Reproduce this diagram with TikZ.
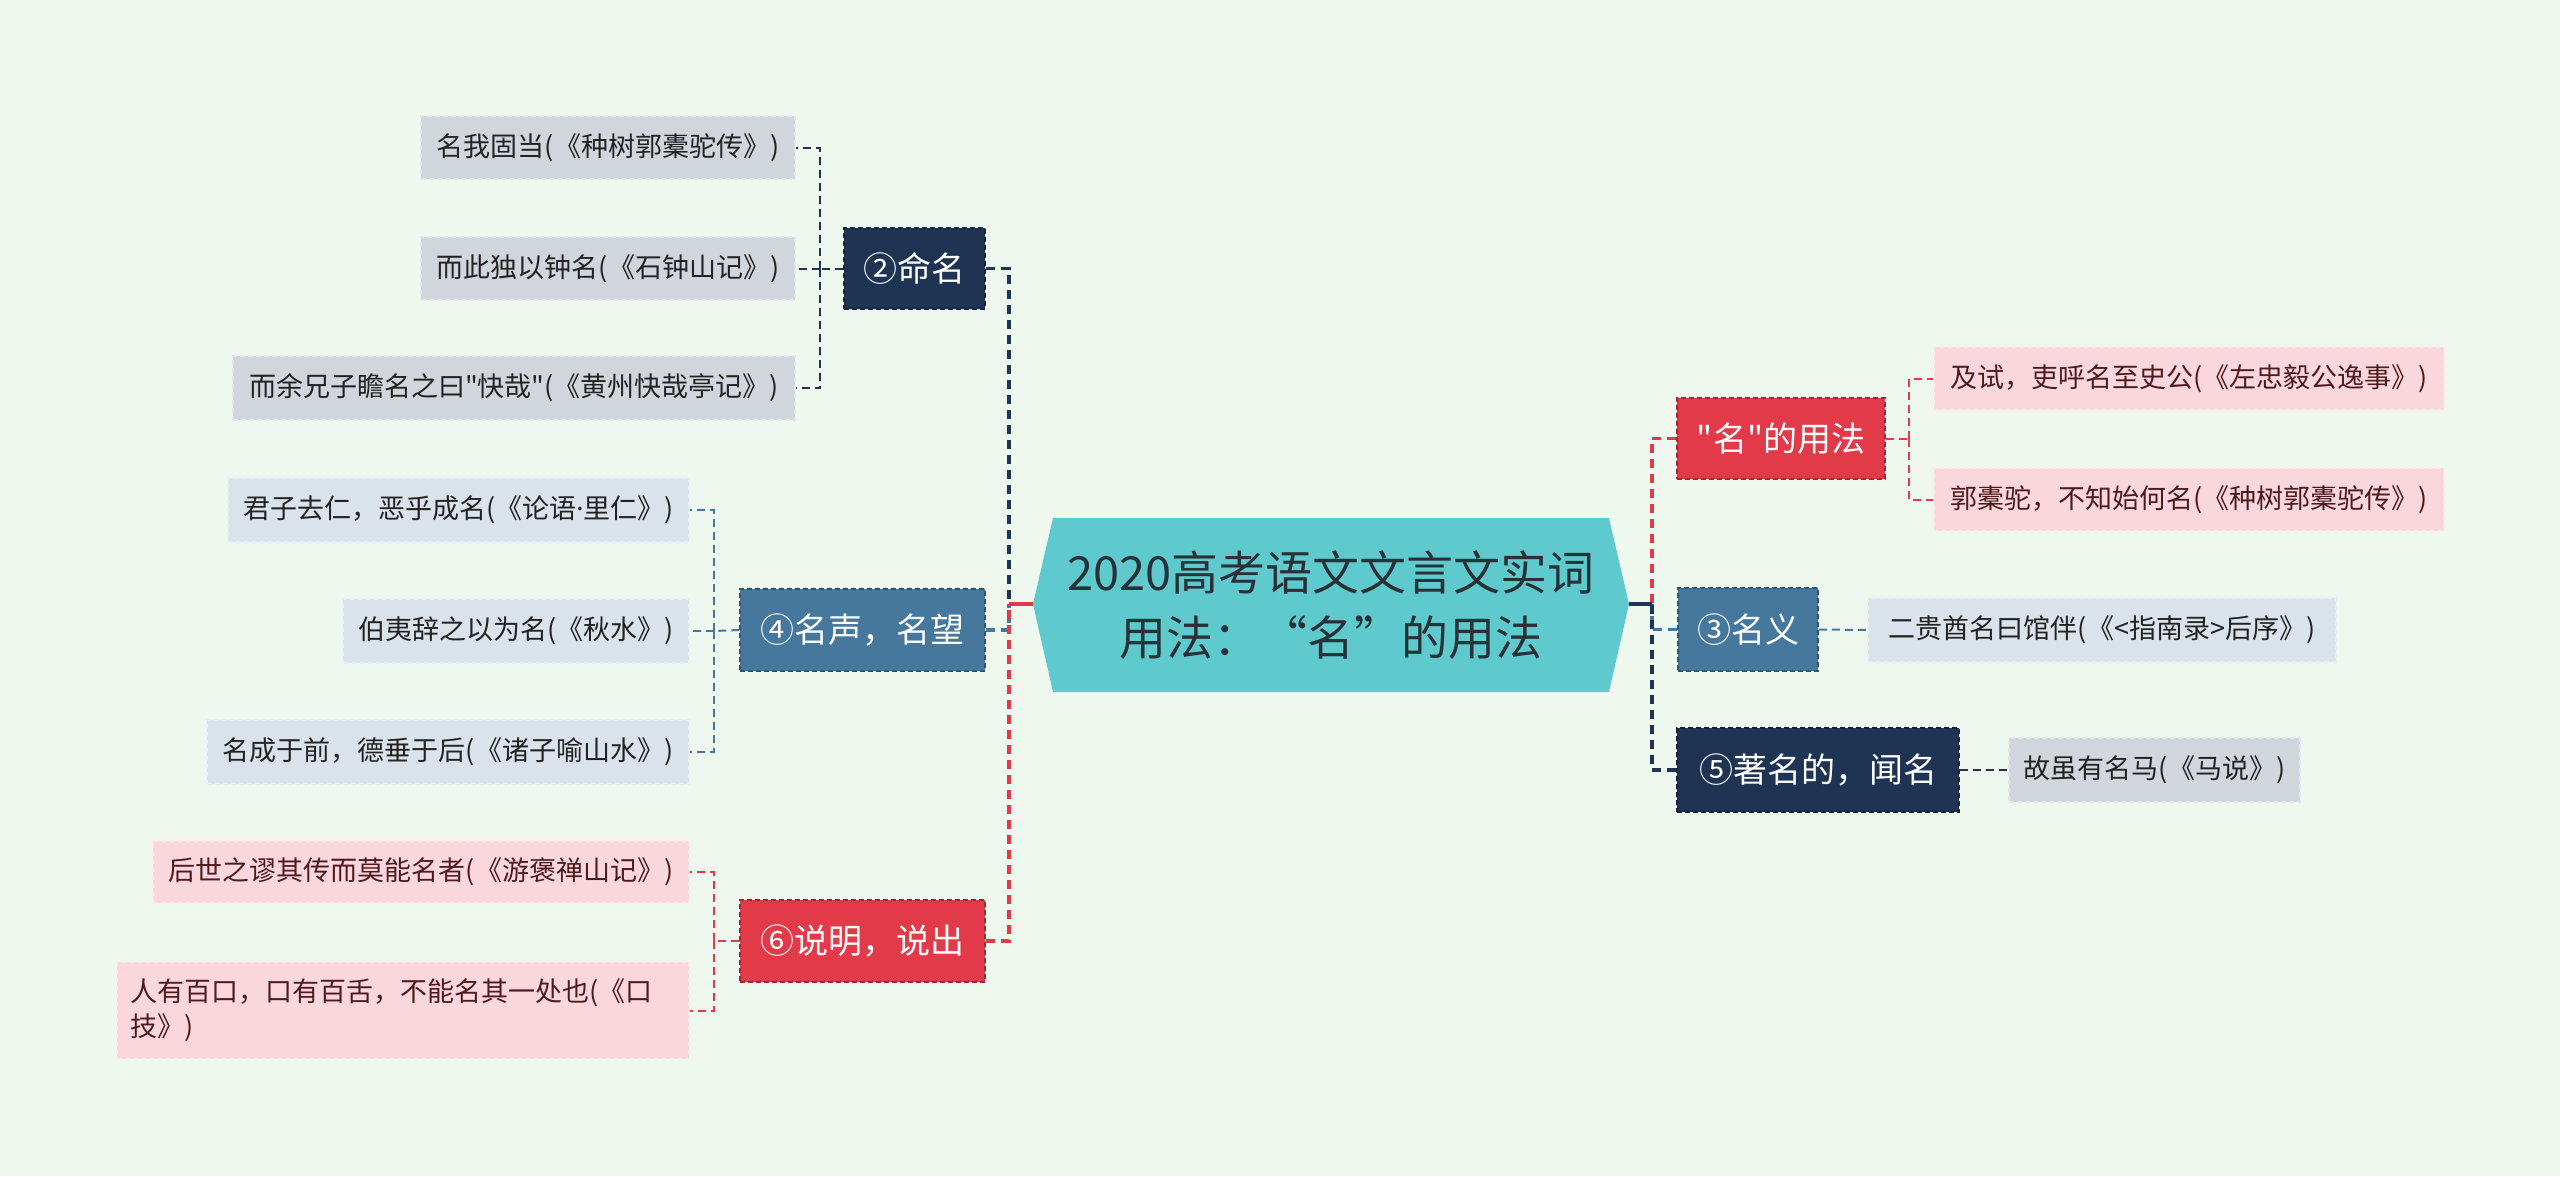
\documentclass[tikz,border=0pt]{standalone}
\usepackage{fontspec}
\setmainfont{Noto Sans CJK SC}[Ligatures=TeXOff]
\newfontfamily\latinfont{Noto Sans}
\definecolor{bg}{HTML}{EFF8EE}
\definecolor{cteal}{HTML}{5FCACD}
\definecolor{cnavy}{HTML}{1E3452}
\definecolor{csteel}{HTML}{45789C}
\definecolor{cred}{HTML}{E23A48}
\definecolor{lgray}{HTML}{D1D6DD}
\definecolor{lblue}{HTML}{DAE3EB}
\definecolor{lpink}{HTML}{FAD7DC}
\definecolor{tdark}{HTML}{263238}
\definecolor{tleaf}{HTML}{222222}
\definecolor{tpink}{HTML}{4E1A1E}
\tikzset{
  lvlone/.style={fill=#1, draw=#1!70!black, dashed, dash pattern=on 5pt off 3pt, line width=1.5pt,
    text=white, font=\fontsize{34}{40}\selectfont, inner sep=0pt},
  leaf/.style={fill=#1, draw=#1!60!white, dashed, dash pattern=on 5pt off 3pt, line width=1.5pt,
    font=\fontsize{27}{35}\selectfont, inner sep=0pt},
  trunk/.style={draw=#1, line width=3.5pt, dash pattern=on 9pt off 6pt},
  twig/.style={draw=#1, line width=2pt, dash pattern=on 8pt off 5pt},
}
\begin{document}
\begin{tikzpicture}[x=1pt,y=-1pt]
\useasboundingbox (0,0) rectangle (2560,1176);
\fill[bg] (0,0) rectangle (2560,1176);

% centre
\coordinate (cW) at (1033,604);
\coordinate (cE) at (1629,604);
\fill[cteal] (1053,518) -- (1609,518) -- (cE) -- (1609,692) -- (1053,692) -- (cW) -- cycle;
\node[font=\fontsize{47}{65}\selectfont, text=tdark, align=center] (ctr) at (1331,605)
  {2020高考语文文言文实词\\用法：“名”的用法};

% level one nodes
\node[lvlone=cnavy, minimum width=141pt, minimum height=81pt] (n2) at (914.5,268.5) {②命名};
\node[lvlone=csteel, minimum width=245pt, minimum height=82pt] (n4) at (862.5,630) {④名声，名望};
\node[lvlone=cred, minimum width=245pt, minimum height=82pt] (n6) at (862.5,941) {⑥说明，说出};
\node[lvlone=cred, minimum width=208pt, minimum height=81pt] (nm) at (1781,438.5) {"名"的用法};
\node[lvlone=csteel, minimum width=140pt, minimum height=83pt] (n3) at (1748,629.5) {③名义};
\node[lvlone=cnavy, minimum width=282pt, minimum height=84pt] (n5) at (1818,770) {⑤著名的，闻名};

% leaves
\node[leaf=lgray, text=tleaf, minimum width=374pt, minimum height=63pt] (c21) at (608,147.5) {名我固当(《种树郭橐驼传》)};
\node[leaf=lgray, text=tleaf, minimum width=374pt, minimum height=63pt] (c22) at (608,268.5) {而此独以钟名(《石钟山记》)};
\node[leaf=lgray, text=tleaf, minimum width=562pt, minimum height=64pt] (c23) at (514,388) {而余兄子瞻名之曰"快哉"(《黄州快哉亭记》)};
\node[leaf=lblue, text=tleaf, minimum width=461pt, minimum height=64pt] (c41) at (458.5,510) {君子去仁，恶乎成名(《论语{\latinfont ·}里仁》)};
\node[leaf=lblue, text=tleaf, minimum width=346pt, minimum height=64pt] (c42) at (516,631) {伯夷辞之以为名(《秋水》)};
\node[leaf=lblue, text=tleaf, minimum width=482pt, minimum height=64pt] (c43) at (448,752) {名成于前，德垂于后(《诸子喻山水》)};
\node[leaf=lpink, text=tpink, minimum width=536pt, minimum height=62pt] (c61) at (421,872) {后世之谬其传而莫能名者(《游褒禅山记》)};
\node[leaf=lpink, text=tpink, minimum width=572pt, minimum height=97pt, inner xsep=13pt, text width=546pt, align=left] (c62) at (403,1010.5) {人有百口，口有百舌，不能名其一处也(《口\\技》)};
\node[leaf=lpink, text=tpink, minimum width=510pt, minimum height=63pt] (cm1) at (2189,378.5) {及试，吏呼名至史公(《左忠毅公逸事》)};
\node[leaf=lpink, text=tpink, minimum width=510pt, minimum height=63pt] (cm2) at (2189,499.5) {郭橐驼，不知始何名(《种树郭橐驼传》)};
\node[leaf=lblue, text=tleaf, minimum width=468pt, minimum height=64pt] (c31) at (2102,630) {二贵酋名曰馆伴(《<指南录>后序》)};
\node[leaf=lgray, text=tleaf, minimum width=291pt, minimum height=64pt] (c51) at (2154.5,770) {故虽有名马(《马说》)};

% junctions
\coordinate (jL) at (1009,604);
\coordinate (jR) at (1652,604);
\coordinate (j2) at (820,268.5);
\coordinate (j4) at (714,631);
\coordinate (j6) at (714,941);
\coordinate (jm) at (1909,438.5);

% trunks left
\draw[trunk=cnavy] (n2.east) -| (jL);
\draw[trunk=csteel] (n4.east) -| (jL);
\draw[trunk=cred] (n6.east) -| (jL);
\draw[cred, line width=3.5pt] (jL) -- (cW);
% trunks right
\draw[trunk=cred] (nm.west) -| (jR);
\draw[trunk=csteel] (n3.west) -| (jR);
\draw[trunk=cnavy] (n5.west) -| (jR);
\draw[cnavy, line width=3.5pt] (cE) -- (jR);

% twigs
\draw[twig=cnavy] (n2.west) -- (j2);
\draw[twig=cnavy] (j2) |- (c21.east);
\draw[twig=cnavy] (j2) -- (c22.east);
\draw[twig=cnavy] (j2) |- (c23.east);

\draw[twig=csteel] (n4.west) -- (j4);
\draw[twig=csteel] (j4) |- (c41.east);
\draw[twig=csteel] (j4) -- (c42.east);
\draw[twig=csteel] (j4) |- (c43.east);

\draw[twig=cred] (n6.west) -- (j6);
\draw[twig=cred] (j6) |- (c61.east);
\draw[twig=cred] (j6) |- (c62.east);

\draw[twig=cred] (nm.east) -- (jm);
\draw[twig=cred] (jm) |- (cm1.west);
\draw[twig=cred] (jm) |- (cm2.west);

\draw[twig=csteel] (n3.east) -- (c31.west);
\draw[twig=cnavy] (n5.east) -- (c51.west);
\end{tikzpicture}
\end{document}
